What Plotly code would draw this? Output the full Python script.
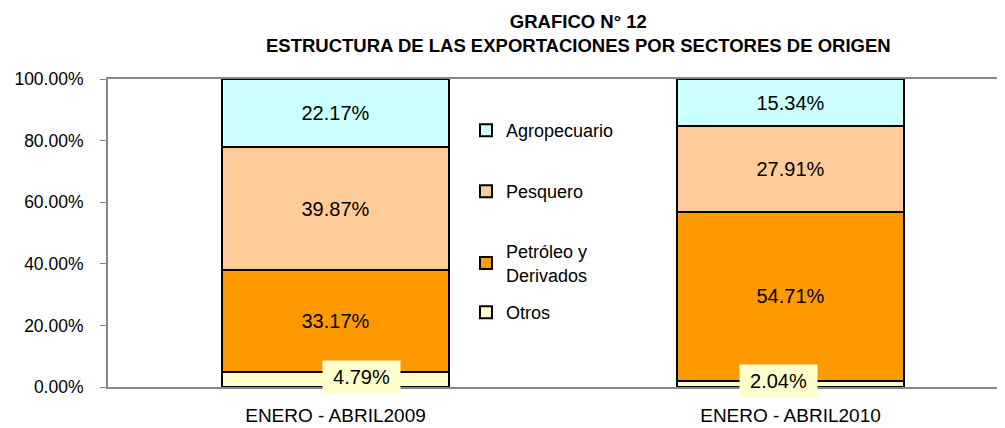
import plotly.graph_objects as go

categories = ["ENERO - ABRIL2009", "ENERO - ABRIL2010"]
otros = [4.79, 2.04]
petroleo = [33.17, 54.71]
pesquero = [39.87, 27.91]
agropecuario = [22.17, 15.34]
tick_vals = [0, 20, 40, 60, 80, 100]
tick_text = ["0.00%", "20.00%", "40.00%", "60.00%", "80.00%", "100.00%"]

# (name, values, colour, label inside bar, legend id, legend top in window px)
series = [
    ("Otros", otros, "#FFFFCC", False, "legend4", 294),
    ("Petróleo y<br>Derivados", petroleo, "#FF9900", True, "legend3", 233),
    ("Pesquero", pesquero, "#FFCC99", True, "legend2", 173),
    ("Agropecuario", agropecuario, "#CCFFFF", True, "legend", 112),
]
otros_label_xshift = [26, -12]

FONT = "Liberation Sans, Arial, sans-serif"
# page body has an 8px margin; the figure is sized to fill the rest of the window
W, H = 997, 420
L, T, B = 100, 71, 41
PW, PH = W - L, H - T - B
OFF = 8

fig = go.Figure()
legend_layout = {}
for name, vals, color, show_text, leg, top in series:
    fig.add_trace(go.Bar(
        x=list(range(len(categories))), y=vals, name=name, legend=leg,
        marker=dict(color=color, line=dict(color="black", width=2)),
        width=0.5,
        text=[f"{v:.2f}%" for v in vals] if show_text else None,
        textposition="inside" if show_text else "none",
        insidetextanchor="middle",
        textfont=dict(size=20, color="black", family=FONT),
        constraintext="none",
        hoverinfo="skip",
    ))
    legend_layout[leg] = dict(
        x=(466 - OFF - L) / PW, y=(H - B - (top - OFF)) / PH,
        xanchor="left", yanchor="top",
        font=dict(size=18, family=FONT, color="black"),
        bgcolor="rgba(0,0,0,0)", itemwidth=30,
    )

for i, v in enumerate(otros):
    fig.add_annotation(x=i, y=v / 2, xref="x", yref="y", text=f"{v:.2f}%",
                       showarrow=False, bgcolor="#FFFFCC", borderpad=4,
                       width=69, height=24,
                       font=dict(size=20, color="black", family=FONT), yshift=3,
                       xshift=otros_label_xshift[i])

fig.add_annotation(x=(570 - L) / PW, y=(H - B - 25) / PH, xref="paper", yref="paper",
                   yanchor="middle", xanchor="center",
                   text="<b>GRAFICO N° 12<br>ESTRUCTURA DE LAS EXPORTACIONES POR SECTORES DE ORIGEN</b>",
                   showarrow=False, font=dict(size=18.5, color="black", family=FONT))

fig.update_layout(
    width=W, height=H,
    margin=dict(l=L, r=0, t=T, b=B, autoexpand=False),
    barmode="stack",
    plot_bgcolor="white", paper_bgcolor="white",
    font=dict(family=FONT, size=17, color="black"),
    showlegend=True,
    **legend_layout,
)
fig.update_xaxes(range=[-0.5, -0.5 + PW / 455], tickvals=list(range(len(categories))),
                 ticktext=categories, showline=True, linecolor="#888888", linewidth=2,
                 mirror=True, ticks="", showgrid=False, zeroline=False,
                 tickfont=dict(size=19), ticklabelstandoff=10)
fig.update_yaxes(range=[0, 100], tickvals=tick_vals, ticktext=tick_text,
                 showline=True, linecolor="#888888", linewidth=2, ticks="outside",
                 ticklen=6, tickcolor="#888888", showgrid=False, zeroline=False,
                 tickfont=dict(size=17.5), ticklabelstandoff=13)

fig.write_html("out.html")
